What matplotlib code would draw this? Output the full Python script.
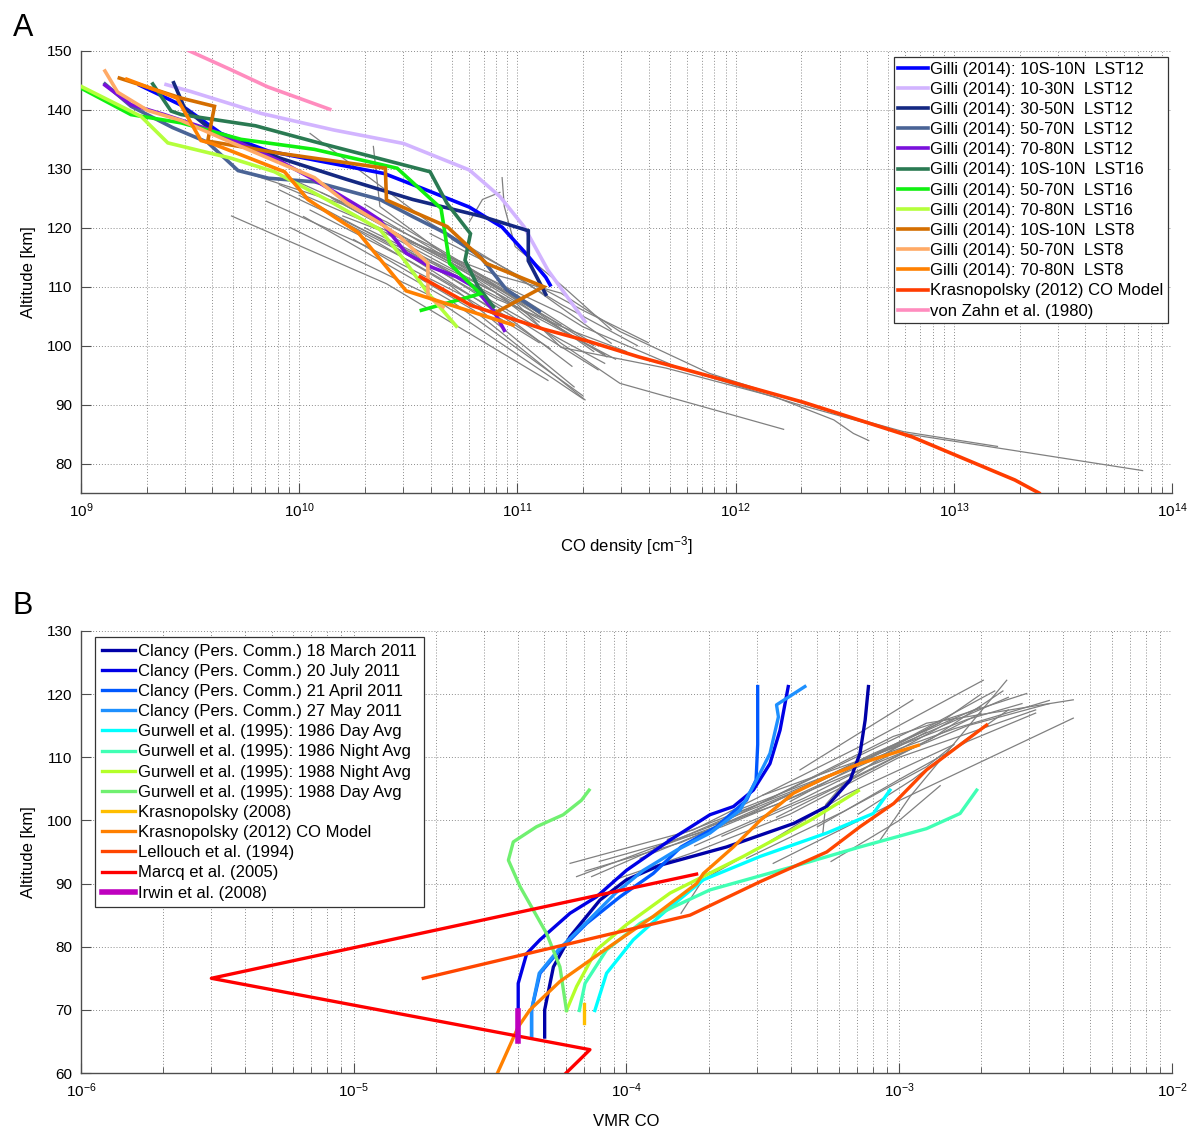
import numpy as np
import matplotlib
matplotlib.use("Agg")
import matplotlib.pyplot as plt
from matplotlib.ticker import LogLocator, NullFormatter, MultipleLocator

plt.rcParams['font.family'] = ['Liberation Sans', 'DejaVu Sans']
plt.rcParams['mathtext.fontset'] = 'custom'
plt.rcParams['mathtext.rm'] = 'Liberation Sans'
plt.rcParams['mathtext.it'] = 'Liberation Sans:italic'

# ---------------- Panel A data (log10 CO density [cm^-3], altitude [km]) ----------------
a_labels = [
    "Gilli (2014): 10S-10N  LST12", "Gilli (2014): 10-30N  LST12", "Gilli (2014): 30-50N  LST12",
    "Gilli (2014): 50-70N  LST12", "Gilli (2014): 70-80N  LST12", "Gilli (2014): 10S-10N  LST16",
    "Gilli (2014): 50-70N  LST16", "Gilli (2014): 70-80N  LST16", "Gilli (2014): 10S-10N  LST8",
    "Gilli (2014): 50-70N  LST8", "Gilli (2014): 70-80N  LST8", "Krasnopolsky (2012) CO Model",
    "von Zahn et al. (1980)"]
a_colors = ["#0000ff", "#d2b4ff", "#142882", "#4a6496", "#7a10dc", "#2a7a52", "#10f010",
            "#b4ff3c", "#d46e00", "#ffaa66", "#ff8000", "#ff3c00", "#ff8cbe"]

g_10s10n_lst12_lx = [9.268, 9.459, 9.642, 9.86, 10.39, 10.57, 10.78, 10.93, 11.04, 11.13, 11.15]
g_10s10n_lst12_z = [144.2, 140.8, 136.0, 133.0, 129.2, 126.6, 123.5, 120.1, 115.6, 111.6, 110.3]
g_1030n_lst12_lx = [9.39, 9.505, 9.826, 10.157, 10.478, 10.78, 10.92, 11.03, 11.14, 11.31]
g_1030n_lst12_z = [144.3, 143.1, 139.4, 136.6, 134.3, 129.8, 125.3, 120.2, 112.8, 104.1]
g_3050n_lst12_lx = [9.425, 9.459, 9.474, 9.612, 9.913, 10.218, 10.52, 10.83, 11.05, 11.05, 11.13]
g_3050n_lst12_z = [144.6, 141.7, 140.3, 136.2, 131.8, 128.2, 124.8, 122.0, 119.5, 114.4, 108.7]
g_5070n_lst12_lx = [9.11, 9.23, 9.42, 9.58, 9.72, 9.86, 10.07, 10.37, 10.52, 10.67, 10.83, 10.95, 11.10]
g_5070n_lst12_z = [144.4, 140.6, 137.0, 134.5, 129.7, 128.4, 127.8, 124.8, 121.9, 119.1, 115.1, 109.5, 105.8]
g_7080n_lst12_lx = [9.11, 9.229, 9.382, 9.61, 9.913, 10.066, 10.296, 10.37, 10.49, 10.6, 10.72, 10.8, 10.89, 10.94]
g_7080n_lst12_z = [144.2, 140.9, 139.2, 136.4, 131.3, 128.2, 123.1, 121.3, 115.7, 113.4, 111.7, 110.0, 106.0, 102.6]
g_10s10n_lst16_lx = [9.329, 9.413, 9.46, 9.8, 10.07, 10.6, 10.678, 10.785, 10.76, 10.82, 10.89]
g_10s10n_lst16_z = [144.4, 139.8, 139.2, 137.3, 134.6, 129.5, 124.1, 119.0, 114.5, 110.0, 106.6]
g_5070n_lst16_lx = [9.0, 9.229, 9.459, 9.734, 10.07, 10.449, 10.65, 10.69, 10.83, 10.56]
g_5070n_lst16_z = [143.7, 139.2, 137.8, 135.0, 133.3, 130.1, 123.3, 113.9, 108.8, 106.0]
g_7080n_lst16_lx = [9.0, 9.275, 9.398, 9.688, 9.887, 10.14, 10.37, 10.48, 10.59, 10.72]
g_7080n_lst16_z = [144.0, 138.9, 134.4, 131.8, 129.5, 124.5, 119.7, 114.6, 108.9, 103.3]
g_10s10n_lst8_lx = [9.176, 9.459, 9.612, 9.581, 9.917, 10.395, 10.40, 10.678, 10.86, 11.12, 10.90]
g_10s10n_lst8_z = [145.4, 142.0, 140.6, 134.7, 132.6, 130.1, 124.7, 120.2, 113.9, 110.0, 105.6]
g_5070n_lst8_lx = [9.11, 9.168, 9.306, 9.459, 9.688, 10.07, 10.218, 10.37, 10.46, 10.59, 10.59, 10.66]
g_5070n_lst8_z = [146.6, 143.0, 139.9, 138.2, 134.5, 128.5, 124.2, 120.8, 118.5, 114.0, 108.3, 106.6]
g_7080n_lst8_lx = [9.21, 9.44, 9.55, 9.60, 9.856, 9.933, 10.04, 10.27, 10.49, 10.66, 10.98]
g_7080n_lst8_z = [145.2, 142.0, 134.8, 134.3, 130.6, 129.5, 124.8, 119.2, 109.3, 107.3, 103.5]
k2012_dens_lx = [10.555, 10.79, 11.12, 11.32, 11.555, 11.913, 12.31, 12.81, 12.99, 13.28, 13.39]
k2012_dens_z = [111.7, 106.8, 102.8, 100.8, 98.1, 94.5, 90.4, 84.5, 81.7, 77.2, 75.0]
vonzahn_lx = [9.497, 9.688, 9.856, 10.14]
vonzahn_z = [150.0, 146.8, 143.9, 140.1]

a_series_lx = [g_10s10n_lst12_lx, g_1030n_lst12_lx, g_3050n_lst12_lx, g_5070n_lst12_lx,
               g_7080n_lst12_lx, g_10s10n_lst16_lx, g_5070n_lst16_lx, g_7080n_lst16_lx,
               g_10s10n_lst8_lx, g_5070n_lst8_lx, g_7080n_lst8_lx, k2012_dens_lx, vonzahn_lx]
a_series_z = [g_10s10n_lst12_z, g_1030n_lst12_z, g_3050n_lst12_z, g_5070n_lst12_z,
              g_7080n_lst12_z, g_10s10n_lst16_z, g_5070n_lst16_z, g_7080n_lst16_z,
              g_10s10n_lst8_z, g_5070n_lst8_z, g_7080n_lst8_z, k2012_dens_z, vonzahn_z]

# grey observed profiles, panel A
a_grey_lx = [
    [9.69, 10.40, 11.14], [9.96, 10.60, 11.30], [10.02, 10.70, 11.30], [10.11, 10.70, 11.26],
    [9.91, 10.50, 10.98, 11.37], [9.91, 10.40, 10.83, 11.41], [10.05, 10.60, 10.98, 11.43],
    [10.34, 10.37, 10.68, 11.07], [10.93, 10.94, 10.99, 11.21, 11.43], [10.78, 10.84, 10.92],
    [9.70, 10.20, 10.70, 11.10], [9.95, 10.40, 10.90, 11.20], [10.15, 10.55, 11.00, 11.35],
    [10.05, 10.50, 10.95, 11.25], [10.20, 10.65, 11.05, 11.40],
    [10.20, 10.90, 11.20, 11.47, 11.88, 12.36, 12.77, 13.20],
    [10.50, 11.00, 11.20, 11.30, 11.73, 12.27, 12.77, 13.26, 13.865],
    [10.30, 10.90, 11.20, 11.47, 12.22],
    [10.40, 11.00, 11.20, 11.68, 12.18, 12.45, 12.54, 12.61],
    [10.25, 10.80, 11.31], [10.45, 11.00, 11.45], [10.60, 11.00, 11.20, 11.55],
    [10.70, 11.05, 11.30, 11.60], [10.10, 10.60, 11.00, 11.32], [10.00, 10.45, 10.85, 11.15],
    [10.30, 10.75, 11.10, 11.40], [9.85, 10.30, 10.75, 11.10], [10.55, 10.90, 11.25, 11.50],
    [10.40, 10.80, 11.15, 11.35]]
a_grey_z = [
    [122.0, 110.5, 94.1], [120.0, 108.5, 91.0], [121.9, 107.5, 91.5], [123.0, 110.0, 93.0],
    [126.4, 116.0, 104.9, 95.9], [127.3, 119.5, 111.1, 98.1], [136.0, 120.8, 112.3, 100.4],
    [133.8, 123.6, 115.1, 106.6], [128.5, 123.6, 116.8, 110.0, 102.7], [121.0, 124.8, 126.0],
    [130.0, 124.0, 114.0, 104.0], [128.5, 121.0, 110.0, 103.5], [125.0, 117.0, 108.0, 99.0],
    [123.0, 114.5, 105.0, 96.5], [121.0, 112.5, 104.0, 97.0],
    [122.0, 112.0, 108.9, 102.4, 95.3, 89.6, 85.4, 82.9],
    [118.0, 109.0, 105.5, 103.2, 96.4, 90.2, 85.1, 82.3, 78.8],
    [120.0, 109.0, 100.4, 93.6, 85.8],
    [119.0, 107.0, 99.7, 96.2, 91.3, 87.4, 85.1, 83.9],
    [118.0, 106.0, 90.8], [117.0, 106.5, 97.7], [119.0, 111.5, 107.0, 100.0],
    [118.0, 111.0, 106.0, 100.5], [126.0, 117.0, 108.5, 101.0], [125.5, 116.5, 107.0, 99.5],
    [124.0, 114.0, 105.0, 98.5], [124.5, 117.0, 108.5, 100.5], [115.5, 108.0, 102.5, 99.0],
    [120.0, 112.0, 104.5, 100.0]]

# ---------------- Panel B data (log10 VMR CO, altitude [km]) ----------------
b_labels = [
    "Clancy (Pers. Comm.) 18 March 2011", "Clancy (Pers. Comm.) 20 July 2011",
    "Clancy (Pers. Comm.) 21 April 2011", "Clancy (Pers. Comm.) 27 May 2011",
    "Gurwell et al. (1995): 1986 Day Avg", "Gurwell et al. (1995): 1986 Night Avg",
    "Gurwell et al. (1995): 1988 Night Avg", "Gurwell et al. (1995): 1988 Day Avg",
    "Krasnopolsky (2008)", "Krasnopolsky (2012) CO Model", "Lellouch et al. (1994)",
    "Marcq et al. (2005)", "Irwin et al. (2008)"]
b_colors = ["#0000a8", "#0000e6", "#0058ff", "#1e90ff", "#00ffff", "#40ffb4", "#b4ff28",
            "#70f070", "#ffbe00", "#ff8000", "#ff4600", "#ff0000", "#be00be"]

clancy_mar_lx = [-4.30, -4.30, -4.268, -4.207, -4.097, -4.0, -3.877, -3.633, -3.388, -3.266, -3.18, -3.144, -3.125, -3.113]
clancy_mar_z = [65.7, 70.0, 76.8, 81.6, 87.4, 90.6, 92.9, 95.8, 99.5, 102.2, 106.4, 110.6, 115.9, 121.2]
clancy_jul_lx = [-4.397, -4.397, -4.366, -4.317, -4.207, -4.11, -4.0, -3.84, -3.694, -3.608, -3.535, -3.474, -3.437, -3.407]
clancy_jul_z = [69.5, 74.2, 78.9, 81.1, 85.3, 87.9, 92.1, 96.9, 100.9, 102.2, 104.8, 109.0, 114.3, 121.2]
clancy_apr_lx = [-4.348, -4.348, -4.317, -4.244, -4.146, -4.024, -3.902, -3.80, -3.67, -3.56, -3.525, -3.519, -3.519]
clancy_apr_z = [65.7, 70.0, 75.8, 79.5, 83.7, 87.9, 91.6, 95.8, 99.0, 103.2, 106.4, 112.0, 121.2]
clancy_may_lx = [-4.348, -4.348, -4.32, -4.25, -4.15, -4.04, -3.938, -3.816, -3.694, -3.584, -3.523, -3.474, -3.443, -3.45, -3.346]
clancy_may_z = [65.7, 70.0, 75.8, 79.5, 83.7, 88.5, 92.1, 95.3, 98.0, 101.6, 106.4, 110.6, 116.4, 118.3, 121.2]
gur86day_lx = [-4.116, -4.073, -3.975, -3.853, -3.718, -3.51, -3.266, -3.095, -3.034]
gur86day_z = [69.9, 75.8, 81.1, 85.8, 90.6, 94.3, 98.0, 101.1, 104.8]
gur86night_lx = [-4.173, -4.152, -4.073, -3.95, -3.828, -3.694, -3.388, -3.144, -2.9, -2.777, -2.716]
gur86night_z = [69.9, 74.2, 79.5, 83.7, 86.3, 89.0, 92.7, 95.8, 98.7, 101.1, 104.8]
gur88night_lx = [-4.22, -4.183, -4.11, -4.0, -3.84, -3.572, -3.327, -3.15]
gur88night_z = [69.9, 73.7, 79.5, 83.5, 88.5, 94.3, 100.0, 104.7]
gur88day_lx = [-4.22, -4.244, -4.293, -4.39, -4.433, -4.415, -4.33, -4.232, -4.165, -4.137]
gur88day_z = [69.9, 76.8, 82.1, 89.5, 93.7, 96.6, 99.0, 100.9, 103.2, 104.8]
k2008_lx = [-4.156, -4.156]
k2008_z = [70.9, 67.9]
k2012_vmr_lx = [-4.476, -4.397, -4.354, -4.244, -4.073, -3.902, -3.743, -3.718, -3.608, -3.51, -3.388, -3.266, -3.144, -2.93]
k2012_vmr_z = [59.7, 67.3, 70.0, 74.5, 79.7, 84.8, 90.0, 91.6, 95.8, 100.0, 104.3, 106.9, 109.0, 111.9]
lellouch_lx = [-4.745, -3.767, -3.51, -3.266, -3.144, -3.02, -2.9, -2.68]
lellouch_z = [75.0, 85.0, 90.3, 95.0, 99.0, 102.7, 108.0, 115.1]
marcq_lx = [-3.743, -5.522, -4.134, -4.245]
marcq_z = [91.5, 75.0, 63.7, 59.0]
irwin_lx = [-4.397, -4.397]
irwin_z = [69.9, 65.1]

b_series_lx = [clancy_mar_lx, clancy_jul_lx, clancy_apr_lx, clancy_may_lx, gur86day_lx,
               gur86night_lx, gur88night_lx, gur88day_lx, k2008_lx, k2012_vmr_lx,
               lellouch_lx, marcq_lx, irwin_lx]
b_series_z = [clancy_mar_z, clancy_jul_z, clancy_apr_z, clancy_may_z, gur86day_z,
              gur86night_z, gur88night_z, gur88day_z, k2008_z, k2012_vmr_z,
              lellouch_z, marcq_z, irwin_z]

b_grey_lx = [
    [-4.207, -3.755, -3.144, -2.692], [-4.183, -3.633, -3.022, -2.533], [-4.128, -3.51, -2.90, -2.362],
    [-3.462, -3.022, -2.362], [-3.364, -2.95], [-3.07, -2.96, -2.606], [-3.80, -3.72, -3.50, -3.20, -2.80],
    [-4.15, -3.80, -3.30, -2.85], [-4.10, -3.65, -3.20, -2.75, -2.45], [-3.95, -3.55, -3.10, -2.70],
    [-3.85, -3.40, -3.00, -2.60], [-3.70, -3.30, -2.95, -2.65], [-3.60, -3.15, -2.80, -2.45],
    [-3.50, -3.05, -2.75, -2.55], [-3.75, -3.35, -3.05, -2.80], [-3.40, -3.10, -2.85, -2.70],
    [-3.56, -3.20, -2.90, -2.80], [-3.30, -3.00, -2.75, -2.50], [-3.25, -3.00, -2.85],
    [-3.28, -3.27, -3.20, -3.00], [-3.90, -3.45, -3.10, -2.90], [-3.65, -3.25, -2.95, -2.70],
    [-3.15, -2.95, -2.75, -2.60], [-3.45, -3.15, -2.88, -2.62], [-4.05, -3.75, -3.40, -3.00, -2.50]]
b_grey_z = [
    [93.2, 98.5, 111.7, 122.2], [91.1, 100.0, 113.3, 120.1], [91.1, 102.7, 115.4, 119.1],
    [93.2, 102.7, 116.2], [108.0, 119.1], [96.9, 103.8, 122.2], [85.3, 90.6, 96.0, 104.0, 112.0],
    [92.0, 96.5, 106.0, 115.5], [93.5, 99.0, 107.0, 115.0, 118.5], [94.0, 101.0, 110.5, 118.0],
    [97.0, 104.5, 112.0, 119.5], [99.0, 106.0, 113.5, 120.5], [101.5, 109.0, 114.5, 119.0],
    [104.0, 111.0, 116.0, 118.5], [96.0, 103.5, 110.0, 116.0], [103.0, 110.0, 115.5, 120.0],
    [94.0, 101.5, 108.5, 112.0], [99.0, 106.5, 112.5, 117.0], [93.5, 100.0, 105.5],
    [98.0, 102.5, 106.0, 112.0], [95.5, 102.5, 109.5, 114.0], [97.5, 105.0, 111.5, 117.0],
    [101.0, 106.5, 113.0, 117.5], [100.5, 107.0, 113.0, 120.5], [90.5, 95.0, 101.0, 110.0, 117.5]]

# ---------------- Figure ----------------
fig = plt.figure(figsize=(11.94, 11.32), dpi=100)
axA = fig.add_axes([0.0678, 0.5645, 0.9138, 0.3905])
axB = fig.add_axes([0.0678, 0.0521, 0.9138, 0.3905])

grey = "#808080"


def style(ax, xlim, ylim, yticks):
    ax.set_xscale('log')
    ax.set_xlim(*xlim)
    ax.set_ylim(*ylim)
    ax.set_yticks(yticks)
    ax.xaxis.set_major_locator(LogLocator(base=10, numticks=20))
    ax.xaxis.set_minor_locator(LogLocator(base=10, subs=np.arange(2, 10), numticks=200))
    ax.xaxis.set_minor_formatter(NullFormatter())
    ax.grid(True, which='major', axis='both', linestyle=(0, (1, 2)), color='#8c8c8c', linewidth=0.7)
    ax.grid(True, which='minor', axis='x', linestyle=(0, (1, 2)), color='#8c8c8c', linewidth=0.7)
    ax.set_axisbelow(True)
    for s in ['top', 'right']:
        ax.spines[s].set_visible(False)
    for s in ['left', 'bottom']:
        ax.spines[s].set_color('#4d4d4d')
        ax.spines[s].set_linewidth(1.0)
    ax.tick_params(which='major', direction='in', length=7, width=0.8, color='#4d4d4d',
                   labelsize=11, pad=6)
    ax.tick_params(which='minor', direction='in', length=4, width=0.6, color='#4d4d4d')
    ax.set_ylabel("Altitude [km]", fontsize=12, labelpad=8)


# Panel A
for lx, z in zip(a_grey_lx, a_grey_z):
    axA.plot(10.0 ** np.array(lx), z, color=grey, lw=0.9, zorder=2)
for lx, z, c, lab in zip(a_series_lx, a_series_z, a_colors, a_labels):
    axA.plot(10.0 ** np.array(lx), z, color=c, lw=2.6, label=lab, zorder=3,
             solid_joinstyle='miter')
style(axA, (1e9, 1e14), (75, 150), np.arange(80, 151, 10))
axA.set_xlabel("CO density [cm$^{-3}$]", fontsize=12, labelpad=10)
legA = axA.legend(loc='upper right', bbox_to_anchor=(0.9963, 0.9864), fontsize=12,
                  frameon=True, fancybox=False, framealpha=1, edgecolor='#333333',
                  handlelength=1.75, handletextpad=0.15, labelspacing=0.31,
                  borderpad=0.28, borderaxespad=0.0)
legA.get_frame().set_linewidth(0.9)

# Panel B
for lx, z in zip(b_grey_lx, b_grey_z):
    axB.plot(10.0 ** np.array(lx), z, color=grey, lw=0.9, zorder=2)
for i, (lx, z, c, lab) in enumerate(zip(b_series_lx, b_series_z, b_colors, b_labels)):
    lw = 4.0 if i == len(b_labels) - 1 else 2.4
    axB.plot(10.0 ** np.array(lx), z, color=c, lw=lw, label=lab, zorder=3)
style(axB, (1e-6, 1e-2), (60, 130), np.arange(60, 131, 10))
axB.set_xlabel("VMR CO", fontsize=12, labelpad=10)
legB = axB.legend(loc='upper left', bbox_to_anchor=(0.0128, 0.9864), fontsize=12,
                  frameon=True, fancybox=False, framealpha=1, edgecolor='#333333',
                  handlelength=2.0, handletextpad=0.2, labelspacing=0.31,
                  borderpad=0.4, borderaxespad=0.0)
legB.get_frame().set_linewidth(0.9)

fig.text(0.0105, 0.968, "A", fontsize=22, ha='left', va='baseline')
fig.text(0.0105, 0.4575, "B", fontsize=22, ha='left', va='baseline')

fig.savefig("out.png", dpi=100)
